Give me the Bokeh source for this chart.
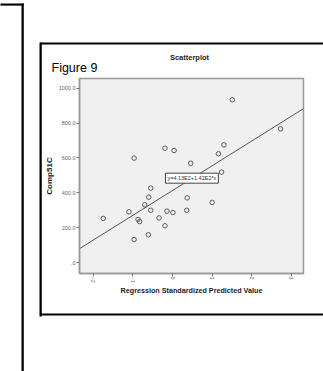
import math
from bokeh.plotting import figure
from bokeh.models import (Label, FixedTicker, ColumnDataSource, Range1d)
from bokeh.embed import file_html
from bokeh.resources import INLINE

# ---- data ----
pred_x = [1.51, 2.73, 1.30, 1.16, -0.19, 0.04, -0.97, 0.46, 1.24, -0.55, -0.60, 0.37, -0.70,
          1.00, -0.55, 0.36, -1.10, -0.14, 0.01, -1.75, -0.34, -0.87, -0.83, -0.19, -0.61, -0.97]
comp_y = [934, 767, 675, 624, 656, 643, 599, 570, 519, 427, 375, 371, 331,
          345, 300, 300, 291, 295, 287, 253, 256, 247, 235, 211, 159, 132]
intercept = 413.0
slope = 142.0
fit_text = "y=4.13E2+1.42E2*x"
x_ticks = [-2, -1, 0, 1, 2, 3]
y_ticks = [0, 200, 400, 600, 800, 1000]
y_tick_labels = [".0", "200.0", "400.0", "600.0", "800.0", "1000.0"]
x_lo, x_hi = -2.35, 3.31
y_lo, y_hi = -63, 1056

SANS = "Liberation Sans"

p = figure(width=323, height=371, output_backend="svg", toolbar_location=None,
           x_range=Range1d(x_lo, x_hi), y_range=Range1d(y_lo, y_hi),
           min_border_left=79, min_border_right=20, min_border_top=78, min_border_bottom=98)
p.background_fill_color = "#f0f0f0"
p.border_fill_color = "white"
p.outline_line_color = "#999999"
p.outline_line_width = 1.5
p.xgrid.visible = False
p.ygrid.visible = False

p.xaxis.ticker = FixedTicker(ticks=x_ticks)
p.yaxis.ticker = FixedTicker(ticks=y_ticks)
p.yaxis.major_label_overrides = {t: l for t, l in zip(y_ticks, y_tick_labels)}
p.xaxis.major_label_orientation = -math.pi / 2
for ax in (p.xaxis, p.yaxis):
    ax.axis_line_color = "#999999"
    ax.axis_line_width = 1.5
    ax.major_tick_line_color = "#777777"
    ax.major_tick_out = 3
    ax.major_tick_in = 0
    ax.minor_tick_line_color = None
    ax.major_label_text_font = SANS
    ax.major_label_text_font_size = "5.5px"
    ax.major_label_text_color = "#666666"
    ax.axis_label_text_font = SANS
    ax.axis_label_text_font_style = "bold"
    ax.axis_label_text_color = "#222222"
p.yaxis.major_label_standoff = 1
p.xaxis.major_label_standoff = 0
p.xaxis.axis_label = "Regression Standardized Predicted Value"
p.yaxis.axis_label = "Comp51C"
p.xaxis.axis_label_text_font_size = "7.2px"
p.yaxis.axis_label_text_font_size = "8px"
p.xaxis.axis_label_standoff = 0
p.yaxis.axis_label_standoff = 2

# scatter points
src = ColumnDataSource(dict(x=pred_x, y=comp_y))
p.scatter("x", "y", source=src, size=4.5, fill_color=None, line_color="#5a5a5a", line_width=1)

# regression line
lx = [x_lo, x_hi]
ly = [intercept + slope * v for v in lx]
p.line(lx, ly, line_color="#555555", line_width=1)

# fit label
p.add_layout(Label(x=0.49, y=484, text=fit_text, text_font=SANS, text_font_size="5.5px",
                   text_color="#333333", text_align="center", text_baseline="middle",
                   border_line_color="#444444", border_line_width=1,
                   background_fill_color="white", padding=2))

# texts outside the frame (canvas units, in a side panel so they are not clipped)
p.add_layout(Label(x=51, y=67, x_units="canvas", y_units="canvas", text="Figure 9",
                   text_font=SANS, text_font_size="12.5px", text_color="black",
                   text_baseline="alphabetic"), "above")
p.add_layout(Label(x=189, y=57, x_units="canvas", y_units="canvas", text="Scatterplot",
                   text_font=SANS, text_font_size="7.5px", text_font_style="bold",
                   text_color="#222222", text_align="center", text_baseline="middle"), "above")

# frame rules drawn as filled labels
def rule(x0, y0, w, h, side):
    p.add_layout(Label(x=x0, y=y0, x_units="canvas", y_units="canvas", text=" ",
                       text_font_size="1px", text_color="black", text_align="left",
                       text_baseline="top",
                       background_fill_color="black", border_line_color=None,
                       padding={"left": 0, "right": w, "top": 0, "bottom": h}), side)

rule(40, 42, 300, 1, "above")   # figure box top
rule(40, 313, 300, 1, "below")  # figure box bottom
rule(39, 42, 2, 273, "left")    # figure box left
rule(0, 3, 23, 1, "above")      # left box top
rule(21, 3, 2, 368, "left")     # left box right

open("out.html", "w").write(file_html(p, INLINE))
